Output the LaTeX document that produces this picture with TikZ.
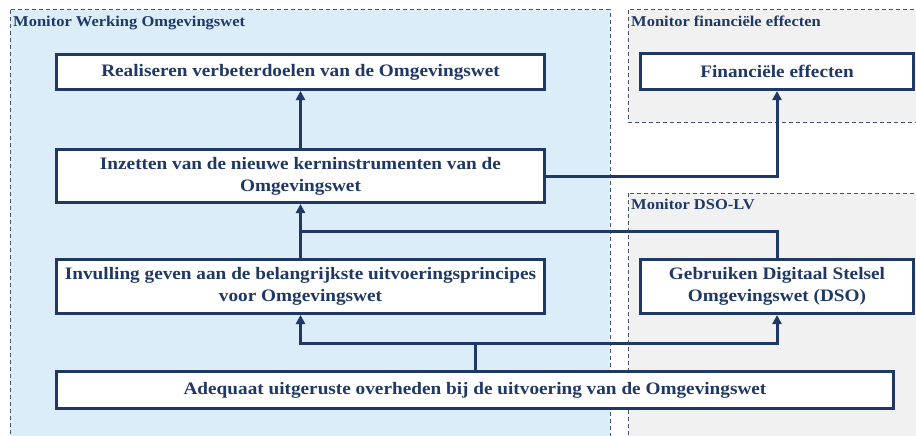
\documentclass[tikz,border=0pt]{standalone}
\usepackage{fontspec}
\setmainfont{Liberation Serif}[FakeStretch=1.1]
\usetikzlibrary{positioning, arrows.meta}

\definecolor{navy}{RGB}{31,56,100}
\definecolor{paleblue}{RGB}{218,237,248}
\definecolor{palegrey}{RGB}{241,241,241}
\definecolor{dashgrey}{RGB}{68,84,106}

\begin{document}
\begin{tikzpicture}[
    x=1pt, y=-1pt, >={Triangle[length=9pt, width=9pt]},
    goal/.style={draw=navy, line width=3pt, fill=white, text=navy, align=center,
        inner sep=0pt, font=\bfseries\fontsize{17.5}{22}\selectfont},
    region/.style={draw=dashgrey, dash pattern=on 4pt off 3pt, line width=1pt},
    regionlabel/.style={anchor=north west, inner sep=0pt, text=navy,
        font=\bfseries\fontsize{15}{17}\selectfont},
    link/.style={draw=navy, line width=3pt}
]

    % Monitors
    \useasboundingbox (0,0) rectangle (916,436);
    \clip (0,0) rectangle (916,436);
    \filldraw[region, fill=paleblue] (10,10) rectangle (610,445);
    \filldraw[region, fill=palegrey] (628,10) rectangle (925,122);
    \filldraw[region, fill=palegrey] (628,193) rectangle (925,445);
    \node[regionlabel] (werking) at (13,16) {Monitor Werking Omgevingswet};
    \node[regionlabel] (financieel) at (631,16) {Monitor financiële effecten};
    \node[regionlabel] (dso) at (631,199) {Monitor DSO-LV};

    % Boxes
    \node[goal, minimum width=488, minimum height=35] (doelen) at (300.5,72) {Realiseren verbeterdoelen van de Omgevingswet};
    \node[goal, minimum width=488, minimum height=53] (kern) at (300.5,176) {Inzetten van de nieuwe kerninstrumenten van de\\Omgevingswet};
    \node[goal, minimum width=488, minimum height=54] (principes) at (300.5,286.5) {Invulling geven aan de belangrijkste uitvoeringsprincipes\\voor Omgevingswet};
    \node[goal, minimum width=273, minimum height=36] (effecten) at (777,71.5) {Financiële effecten};
    \node[goal, minimum width=273, minimum height=54] (stelsel) at (777,286.5) {Gebruiken Digitaal Stelsel\\Omgevingswet (DSO)};
    \node[goal, minimum width=837, minimum height=37] (overheden) at (475,390) {Adequaat uitgeruste overheden bij de uitvoering van de Omgevingswet};

    % Connections
    \coordinate (join) at ([yshift=27]stelsel.north);
    \coordinate (split) at ([yshift=27]overheden.north);
    \draw[link, ->] (kern.north) -- (doelen.south);
    \draw[link, ->] (kern.east) -| (effecten.south);
    \draw[link, ->] (principes.north) -- (kern.south);
    \draw[link] (stelsel.north) -- (join) -- (join -| kern.south);
    \draw[link] (overheden.north) -- (split);
    \draw[link, ->] (split) -| (principes.south);
    \draw[link, ->] (split) -| (stelsel.south);

\end{tikzpicture}
\end{document}
